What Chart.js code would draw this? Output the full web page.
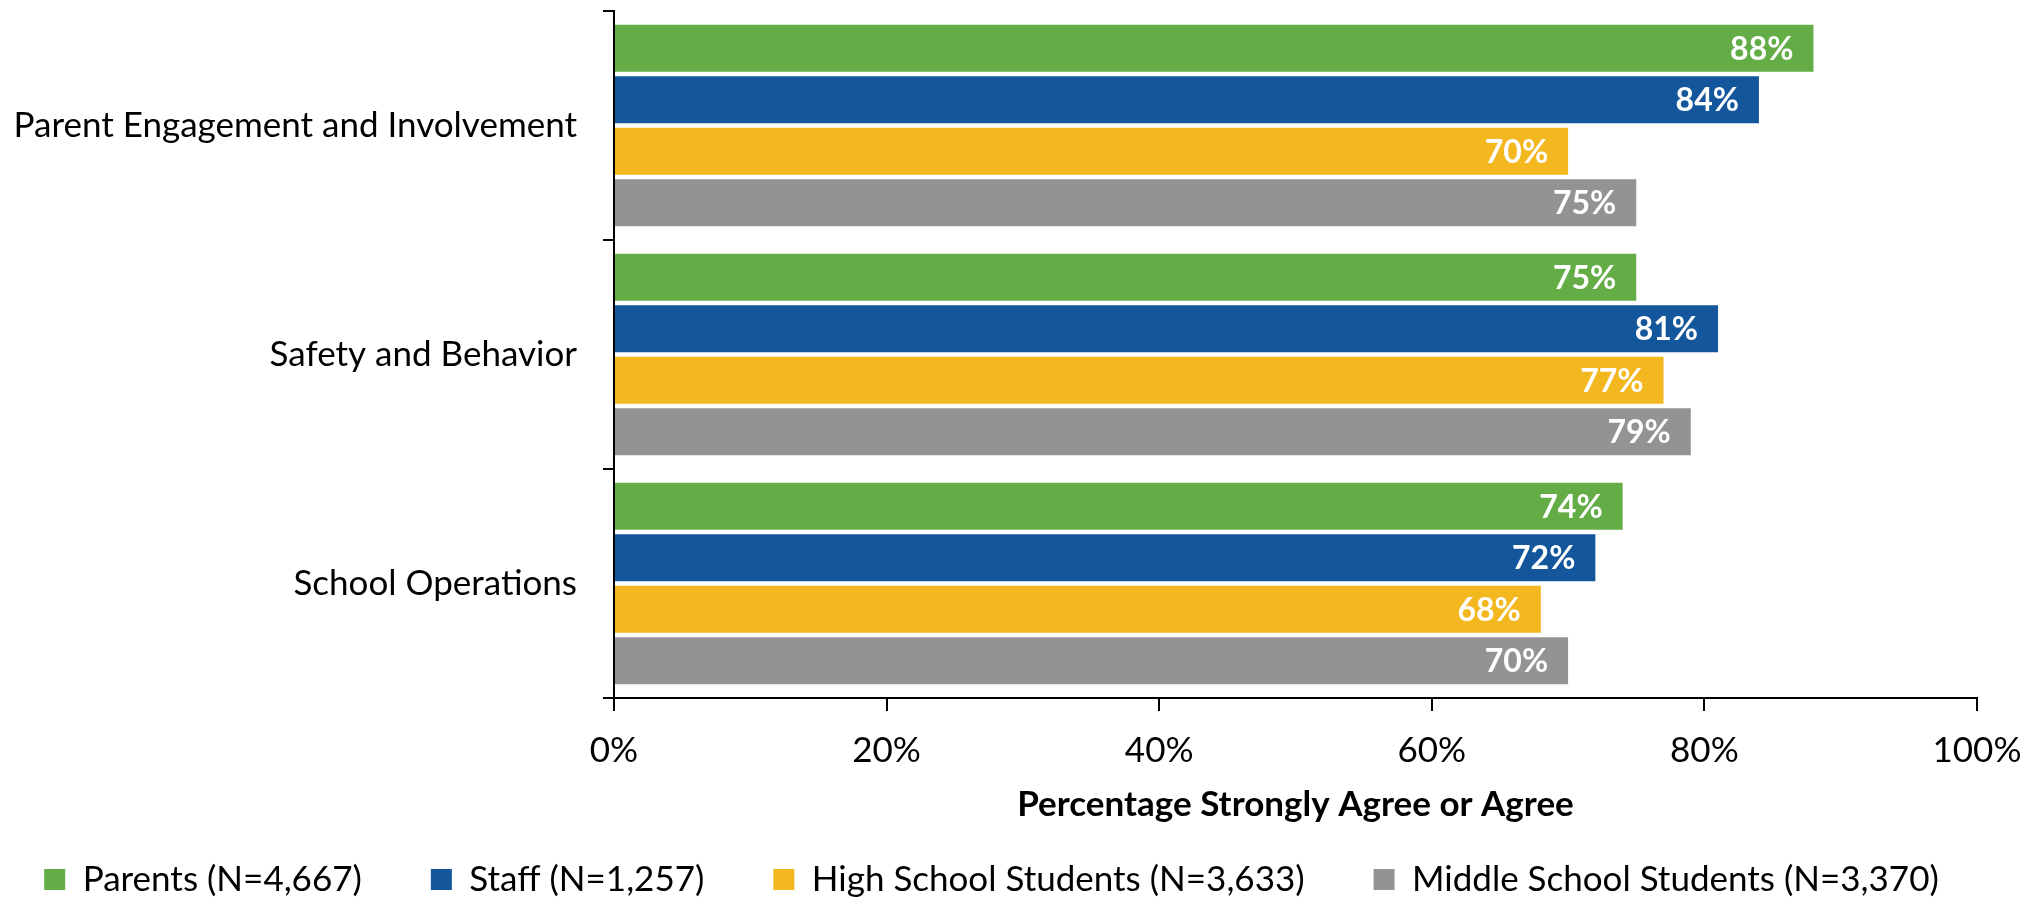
<!DOCTYPE html>
<html>
<head>
<meta charset="utf-8">
<script src="https://cdn.jsdelivr.net/npm/chart.js@4.4.1/dist/chart.umd.min.js"></script>
<style>
  body { margin: 0; background: #fff; }
  #chart { display: block; }
</style>
</head>
<body>
<canvas id="chart" width="2041" height="898"></canvas>
<script>
const categories = ['Parent Engagement and Involvement', 'Safety and Behavior', 'School Operations'];
const seriesNames = ['Parents (N=4,667)', 'Staff (N=1,257)', 'High School Students (N=3,633)', 'Middle School Students (N=3,370)'];
const parents = [88, 75, 74];
const staff = [84, 81, 72];
const highSchool = [70, 77, 68];
const middleSchool = [75, 79, 70];
const xTicks = [0, 20, 40, 60, 80, 100];
const colors = ['#63ac46', '#14569b', '#f3b71f', '#939393'];

const fontFam = 'Lato, "Open Sans", sans-serif';

// white value labels at the end of each bar
const barLabels = {
    id: 'barLabels',
    afterDatasetsDraw(chart) {
        const ctx = chart.ctx;
        ctx.save();
        ctx.fillStyle = '#fff';
        ctx.font = 'bold 32px ' + fontFam;
        ctx.textAlign = 'right';
        ctx.textBaseline = 'middle';
        chart.data.datasets.forEach((ds, i) => {
            chart.getDatasetMeta(i).data.forEach((bar, j) => {
                ctx.fillText(ds.data[j] + '%', bar.x - 20, bar.y + 1);
            });
        });
        ctx.restore();
    }
};

const allSeries = [parents, staff, highSchool, middleSchool];

new Chart(document.getElementById('chart'), {
    type: 'bar',
    data: {
        labels: categories,
        datasets: allSeries.map((vals, i) => ({
            label: seriesNames[i],
            data: vals,
            backgroundColor: colors[i],
            categoryPercentage: 0.9,
            barPercentage: 0.91
        }))
    },
    options: {
        indexAxis: 'y',
        responsive: false,
        animation: false,
        layout: { padding: { left: -58, right: 0, top: 11, bottom: -9 } },
        scales: {
            x: {
                min: 0,
                max: 100,
                afterBuildTicks: (scale) => { scale.ticks = xTicks.map(v => ({ value: v })); },
                afterFit: (scale) => {
                    scale.height = 95;
                    scale.paddingRight = 64;
                },
                grid: { drawOnChartArea: false, color: '#000', lineWidth: 2, tickLength: 13 },
                border: { color: '#000', width: 2 },
                ticks: {
                    color: '#000',
                    padding: 19,
                    font: { family: fontFam, size: 35 },
                    callback: (v) => v + '%'
                },
                title: {
                    display: true,
                    text: 'Percentage Strongly Agree or Agree',
                    color: '#000',
                    font: { family: fontFam, size: 35, weight: 'bold' },
                    padding: { top: 0, bottom: -33 }
                }
            },
            y: {
                afterFit: (scale) => {
                    scale.width = 672;
                    scale.paddingTop = 0;
                    scale.paddingBottom = 0;
                },
                grid: { drawOnChartArea: false, color: '#000', lineWidth: 2, tickLength: 11 },
                border: { color: '#000', width: 2 },
                ticks: {
                    color: '#000',
                    padding: 26,
                    font: { family: fontFam, size: 35 }
                }
            }
        },
        plugins: {
            legend: {
                position: 'bottom',
                labels: {
                    color: '#000',
                    boxWidth: 21,
                    boxHeight: 21,
                    padding: 69,
                    font: { family: fontFam, size: 35 }
                }
            },
            tooltip: { enabled: false }
        }
    },
    plugins: [barLabels]
});
</script>
</body>
</html>
